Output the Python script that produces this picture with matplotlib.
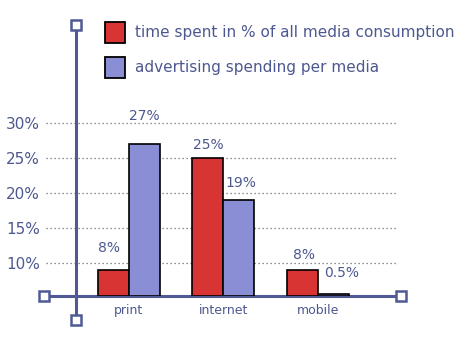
import numpy as np
import matplotlib
matplotlib.use("Agg")
import matplotlib.pyplot as plt
from matplotlib.patches import Rectangle

# Data
categories = ["print", "internet", "mobile"]
time_spent = [8, 25, 8]
ad_spending = [27, 19, 0.5]
time_labels = ["8%", "25%", "8%"]
ad_labels = ["27%", "19%", "0.5%"]
series_names = ["time spent in % of all media consumption",
                "advertising spending per media"]
ytick_values = [10, 15, 20, 25, 30]
ytick_labels = ["10%", "15%", "20%", "25%", "30%"]

# Styling
RED = "#d83434"
BLUE = "#8a8fd5"
INK = "#4d5890"
AXIS = "#4f5a94"
GRID = "#6a6a78"

W, H = 469, 341
fig = plt.figure(figsize=(W / 100, H / 100), dpi=100)
fig.patch.set_facecolor("white")


def px_box(x0, y0, x1, y1):
    """Figure-fraction rectangle from pixel coordinates (origin top-left)."""
    return [x0 / W, 1 - y1 / H, (x1 - x0) / W, (y1 - y0) / H]


ax = fig.add_axes(px_box(44, 25, 401, 296))
ax.set_facecolor("none")
for s in ax.spines.values():
    s.set_visible(False)

# Compressed lower band: below 10% the axis runs at a reduced rate
LOW = 0.465


def fwd(v):
    v = np.asarray(v, dtype=float)
    return np.where(v <= 10, v * LOW, 10 * LOW + (v - 10))


def inv(u):
    u = np.asarray(u, dtype=float)
    return np.where(u <= 10 * LOW, u / LOW, u - 10 * LOW + 10)


ax.set_yscale("function", functions=(fwd, inv))
ax.set_ylim(0, 43.9)
ax.set_xlim(-0.899, 2.878)

x = np.arange(len(categories))
width = 0.328
bars_red = ax.bar(x - width / 2, time_spent, width, color=RED,
                  edgecolor="black", linewidth=1.2, zorder=3)
bars_blue = ax.bar(x + width / 2, ad_spending, width, color=BLUE,
                   edgecolor="black", linewidth=1.2, zorder=3)

# Dotted guide lines
for v in ytick_values:
    ax.axhline(v, xmin=0.006, xmax=0.985, color=GRID, linestyle=(0, (1, 2.2)),
               linewidth=0.9, zorder=1)

ax.set_yticks(ytick_values)
ax.set_yticklabels(ytick_labels)
ax.set_xticks(x)
ax.set_xticklabels(categories)
ax.tick_params(axis="y", length=0, pad=3, labelsize=11, labelcolor=INK)
ax.tick_params(axis="x", length=0, pad=6, labelsize=9, labelcolor=INK)

# Axis lines with open square end caps
vx = (76 - 44) / (401 - 44)
vy0 = (296 - 320) / (296 - 25)
ax.plot([0, 1], [0, 0], color=AXIS, linewidth=2.2, transform=ax.transAxes,
        clip_on=False, zorder=2)
ax.plot([vx, vx], [vy0, 1], color=AXIS, linewidth=2.2, transform=ax.transAxes,
        clip_on=False, zorder=2)
ax.plot([0, 1, vx, vx], [0, 0, vy0, 1], linestyle="none", marker="s",
        markersize=6.5, markerfacecolor="white", markeredgecolor=AXIS,
        markeredgewidth=1.8, transform=ax.transAxes, clip_on=False, zorder=4)

# Value labels above bars (offsets in pixels)
red_offsets = [(-4, 22), (0, 13), (1, 15)]
blue_offsets = [(0, 28), (2, 17), (8, 21)]
for bar, lab, off in zip(bars_red, time_labels, red_offsets):
    ax.annotate(lab, (bar.get_x() + bar.get_width() / 2, bar.get_height()),
                xytext=off, textcoords="offset pixels", ha="center",
                va="center", fontsize=10, color=INK, annotation_clip=False)
for bar, lab, off in zip(bars_blue, ad_labels, blue_offsets):
    ax.annotate(lab, (bar.get_x() + bar.get_width() / 2, bar.get_height()),
                xytext=off, textcoords="offset pixels", ha="center",
                va="center", fontsize=10, color=INK, annotation_clip=False)

# Legend
for (y0, y1), col, name in zip([(22, 43), (57, 78)], [RED, BLUE], series_names):
    fig.add_artist(Rectangle(px_box(105, y0, 125, y1)[:2],
                             20 / W, 21 / H, transform=fig.transFigure,
                             facecolor=col, edgecolor="black", linewidth=1.3))
    fig.text(135 / W, 1 - ((y0 + y1) / 2) / H, name, ha="left", va="center",
             fontsize=11, color=INK)

fig.savefig("out.png", dpi=100)
